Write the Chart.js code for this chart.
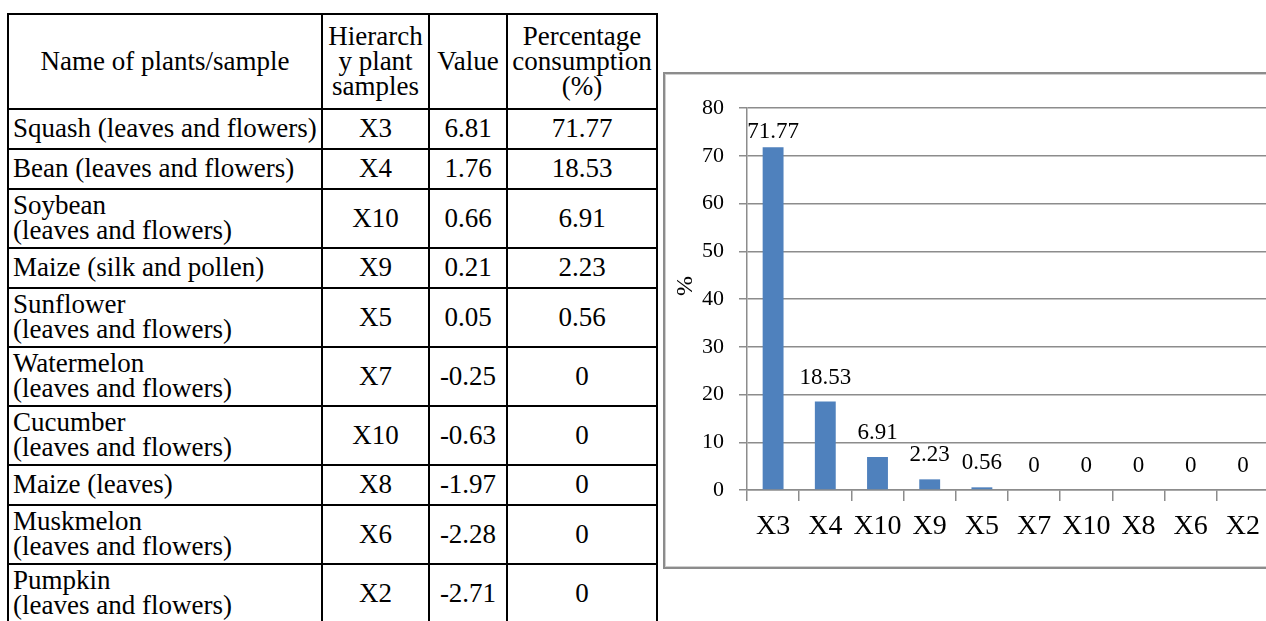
<!DOCTYPE html>
<html>
<head>
<meta charset="utf-8">
<script src="https://cdn.jsdelivr.net/npm/chart.js@4"></script>
<style>
  html, body { margin: 0; padding: 0; background: #fff; }
  body {
    width: 1266px; height: 621px; overflow: hidden; position: relative;
    font-family: "Liberation Serif", "Times New Roman", serif; color: #000;
  }
  #tbl {
    position: absolute; left: 7px; top: 13px;
    border-collapse: collapse; table-layout: fixed;
    font-size: 27px; line-height: 25px;
  }
  #tbl th, #tbl td {
    border: 2px solid #000; padding: 3px 3px 4px 3px;
    font-weight: normal; text-align: center; vertical-align: middle;
    white-space: pre-line; overflow: hidden;
  }
  #tbl th { height: 86px; }
  #tbl td { height: 31px; }
  #tbl td.name { text-align: left; padding-left: 4px; padding-right: 1px; }
  #box {
    position: absolute; left: 663px; top: 72px; width: 660px; height: 493px;
    border: 2px solid #8c8c8c; box-shadow: inset 0 0 0 1px #cfcfcf;
  }
  #chart { position: absolute; left: 666px; top: 75px; }
</style>
</head>
<body>
<table id="tbl">
  <colgroup>
    <col style="width:314px"><col style="width:107px"><col style="width:78px"><col style="width:150px">
  </colgroup>
  <thead><tr id="headRow"></tr></thead>
  <tbody id="bodyRows"></tbody>
</table>
<div id="box"></div>
<canvas id="chart" width="620" height="491"></canvas>
<script>
// Table columns
const headers = ["Name of plants/sample", "Hierarch\ny plant\nsamples", "Value", "Percentage\nconsumption\n(%)"];

// One entry per plant sample, in ranked order
const plantNames = [
  "Squash (leaves and flowers)",
  "Bean (leaves and flowers)",
  "Soybean\n(leaves and flowers)",
  "Maize (silk and pollen)",
  "Sunflower\n(leaves and flowers)",
  "Watermelon\n(leaves and flowers)",
  "Cucumber\n(leaves and flowers)",
  "Maize (leaves)",
  "Muskmelon\n(leaves and flowers)",
  "Pumpkin\n(leaves and flowers)"
];
const sampleCodes = ["X3", "X4", "X10", "X9", "X5", "X7", "X10", "X8", "X6", "X2"];
const sampleValues = [6.81, 1.76, 0.66, 0.21, 0.05, -0.25, -0.63, -1.97, -2.28, -2.71];
const consumptionPct = [71.77, 18.53, 6.91, 2.23, 0.56, 0, 0, 0, 0, 0];

// Value axis
const yAxisMin = 0;
const yAxisMax = 80;
const yAxisStep = 10;
const yAxisTitle = "%";

// Build the table
const headRow = document.getElementById("headRow");
headers.forEach(h => {
  const th = document.createElement("th");
  th.textContent = h;
  headRow.appendChild(th);
});
const bodyRows = document.getElementById("bodyRows");
plantNames.forEach((name, i) => {
  const tr = document.createElement("tr");
  const cells = [name, sampleCodes[i], String(sampleValues[i]), String(consumptionPct[i])];
  cells.forEach((c, j) => {
    const td = document.createElement("td");
    td.textContent = c;
    if (j === 0) td.className = "name";
    tr.appendChild(td);
  });
  bodyRows.appendChild(tr);
});

const serif = '"Liberation Serif", "Times New Roman", serif';
const axisGray = "#8c8c8c";

// Value labels above each bar
const valueLabels = {
  id: "valueLabels",
  afterDatasetsDraw(chart) {
    const { ctx, chartArea } = chart;
    const meta = chart.getDatasetMeta(0);
    const data = chart.data.datasets[0].data;
    ctx.save();
    ctx.font = "23px " + serif;
    ctx.fillStyle = "#000";
    ctx.textAlign = "center";
    ctx.textBaseline = "alphabetic";
    meta.data.forEach((bar, i) => {
      const y = Math.max(bar.y - 18, chartArea.top + 30);
      ctx.fillText(String(data[i]), bar.x, y);
    });
    ctx.restore();
  }
};

// Rotated unit label beside the value axis, sitting a little above mid-height
const unitTitle = {
  id: "unitTitle",
  afterDraw(chart) {
    const { ctx, chartArea } = chart;
    const yScale = chart.scales.y;
    ctx.save();
    ctx.translate(yScale.left + 20, (chartArea.top + chartArea.bottom) / 2 - 13);
    ctx.rotate(-Math.PI / 2);
    ctx.font = "24px " + serif;
    ctx.fillStyle = "#000";
    ctx.textAlign = "center";
    ctx.textBaseline = "middle";
    ctx.fillText(yAxisTitle, 0, 0);
    ctx.restore();
  }
};

new Chart(document.getElementById("chart"), {
  type: "bar",
  data: {
    labels: sampleCodes,
    datasets: [{
      data: consumptionPct,
      backgroundColor: "#4F81BD",
      borderWidth: 0,
      barPercentage: 0.5,
      categoryPercentage: 0.8
    }]
  },
  options: {
    responsive: false,
    animation: false,
    layout: { padding: { top: 33, right: 17, bottom: 0, left: 0 } },
    plugins: {
      legend: { display: false },
      tooltip: { enabled: false }
    },
    scales: {
      x: {
        grid: { display: true, drawOnChartArea: false, drawTicks: true, tickLength: 11, color: axisGray, lineWidth: 1.5 },
        border: { display: true, color: axisGray, width: 1.5 },
        ticks: { color: "#000", font: { family: serif, size: 28 }, padding: 9, maxRotation: 0, autoSkip: false },
        afterFit(scale) { scale.height = 76; }
      },
      y: {
        min: yAxisMin,
        max: yAxisMax,
        grid: { color: axisGray, lineWidth: 1.5, drawTicks: true, tickLength: 8 },
        border: { display: true, color: axisGray, width: 1.5 },
        ticks: { stepSize: yAxisStep, color: "#000", font: { family: serif, size: 22 }, padding: 15 },
        afterFit(scale) { scale.width = 81; }
      }
    }
  },
  plugins: [valueLabels, unitTitle]
});
</script>
</body>
</html>
